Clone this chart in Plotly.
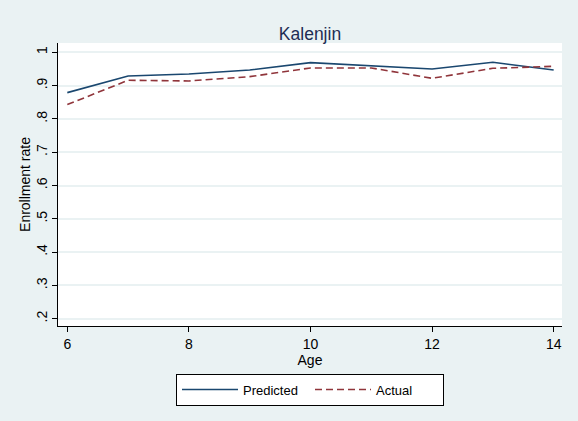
import plotly.graph_objects as go

ages = [6, 7, 8, 9, 10, 11, 12, 13, 14]
predicted = [0.879, 0.929, 0.935, 0.947, 0.969, 0.960, 0.950, 0.970, 0.947]
actual = [0.843, 0.916, 0.914, 0.927, 0.953, 0.953, 0.922, 0.952, 0.958]
y_ticks = [0.2, 0.3, 0.4, 0.5, 0.6, 0.7, 0.8, 0.9, 1.0]
y_tick_labels = [".2", ".3", ".4", ".5", ".6", ".7", ".8", ".9", "1"]
x_ticks = [6, 8, 10, 12, 14]

fig = go.Figure()
fig.add_trace(go.Scatter(x=ages, y=predicted, mode="lines", name="Predicted",
                         line=dict(color="#1a476f", width=1.6)))
fig.add_trace(go.Scatter(x=ages, y=actual, mode="lines", name="Actual",
                         line=dict(color="#90353b", width=1.6, dash="7px,4px")))

fig.update_layout(
    width=578, height=421,
    paper_bgcolor="#eaf2f3", plot_bgcolor="white",
    font=dict(family="Liberation Sans, Arial, sans-serif", size=13, color="black"),
    margin=dict(l=58, r=16, t=43, b=95, autoexpand=False),
    title=dict(text="Kalenjin", x=0.5, xref="paper", xanchor="center",
               y=1, yref="paper", yanchor="bottom", pad=dict(b=3),
               font=dict(size=17.5, color="#1e2d53")),
    showlegend=True,
    legend=dict(orientation="h", x=0.5, xanchor="center", y=-0.168, yanchor="top",
                bgcolor="white", bordercolor="black", borderwidth=1,
                font=dict(size=13), itemwidth=56, entrywidth=62, tracegroupgap=0),
    xaxis=dict(range=[5.847, 14.137], tickvals=x_ticks, ticks="outside", ticklen=5,
               tickcolor="black", showgrid=False, zeroline=False, automargin=False,
               showline=True, linecolor="black", linewidth=1,
               title=dict(text="Age", standoff=0, font=dict(size=14)),
               tickfont=dict(size=14)),
    yaxis=dict(range=[0.178, 1.028], tickvals=y_ticks, ticktext=y_tick_labels,
               ticks="outside", ticklen=5, tickcolor="black", tickangle=-90,
               ticklabelstandoff=-1,
               showgrid=True, gridcolor="#eaf2f3", gridwidth=1.5, zeroline=False,
               automargin=False,
               showline=True, linecolor="black", linewidth=1,
               title=dict(text="Enrollment rate", standoff=0, font=dict(size=14)),
               tickfont=dict(size=14)),
)

fig.write_html("out.html", config={"displayModeBar": False},
               post_script="document.body.style.margin='0';")
